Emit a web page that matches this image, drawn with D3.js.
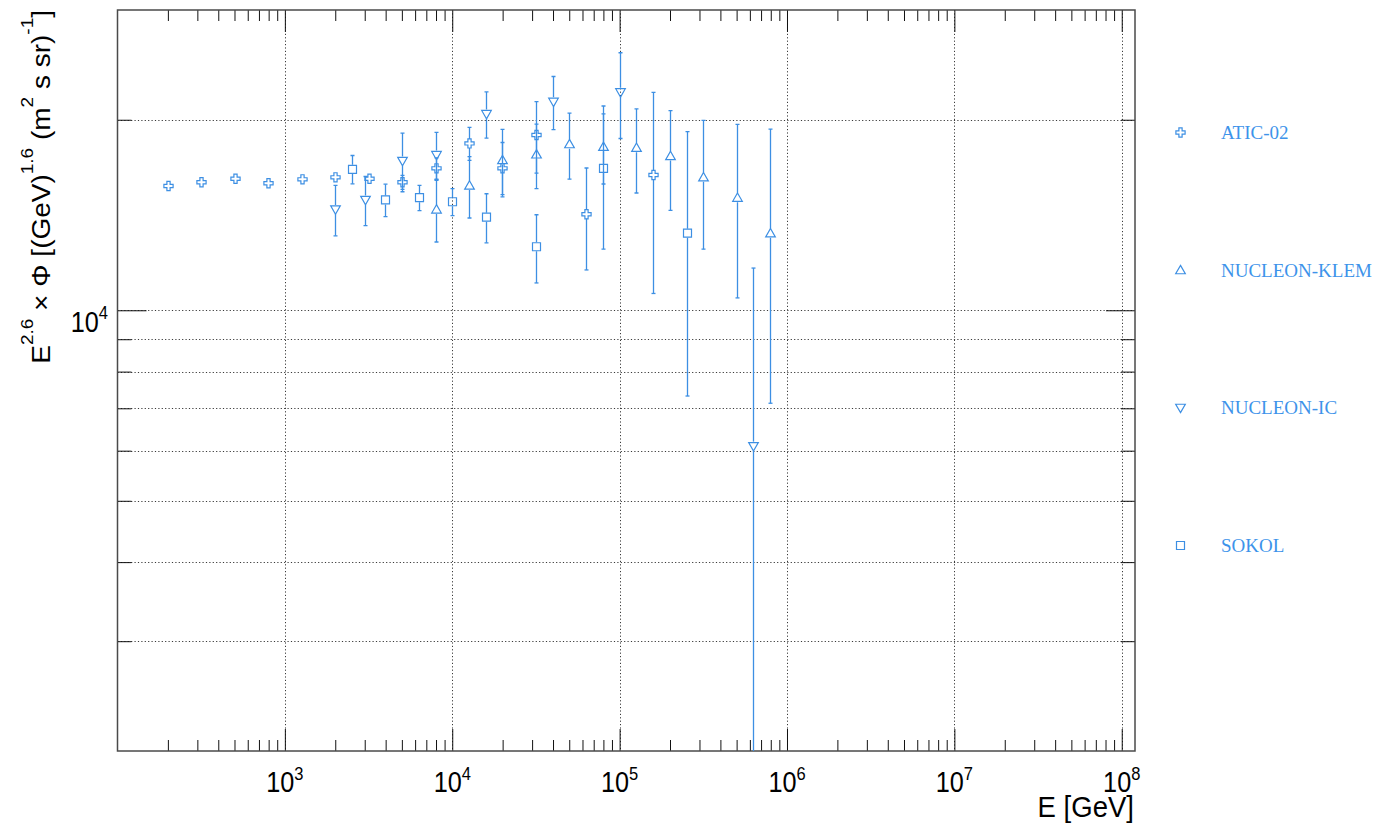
<!DOCTYPE html>
<html>
<head>
<meta charset="utf-8">
<script src="https://cdn.jsdelivr.net/npm/d3@7"></script>
<style>
  body { margin: 0; background: #fff; }
  svg { display: block; }
</style>
</head>
<body>
<svg id="chart" width="1379" height="824"></svg>
<script>
// ---- data: energy [GeV], E^2.6 x flux, symmetric error ----
const aticEnergy = [200, 316, 501, 794, 1259, 1995, 3162, 5012, 7943, 12589, 19953, 31623, 63096, 158489];
const aticValue  = [15720, 15930, 16140, 15870, 16100, 16220, 16140, 15930, 16760, 18350, 16760, 18920, 14180, 16360];
const aticError  = [120, 130, 140, 150, 170, 200, 260, 400, 650, 1100, 1650, 2450, 2600, 5730];

const klemEnergy = [7943, 12589, 19953, 31623, 50119, 79433, 125893, 199526, 316228, 501187, 794328];
const klemValue  = [14430, 15740, 17270, 17630, 18300, 18130, 18060, 17530, 16220, 15060, 13230];
const klemError  = [1610, 1750, 2040, 2060, 2190, 2300, 2740, 3150, 3730, 4600, 6100];

const icEnergy = [2000, 3000, 5000, 8000, 16000, 40000, 100000, 630000];
const icValue  = [14430, 14940, 17220, 17590, 20420, 21350, 22100, 6100];
const icError  = [1320, 1330, 1830, 1510, 1710, 2060, 3420, 5560];

const sokolEnergy = [2512, 3981, 6310, 10000, 15849, 31623, 79433, 251189];
const sokolValue  = [16700, 14940, 15060, 14840, 14030, 12600, 16760, 13240];
const sokolError  = [860, 880, 690, 730, 1250, 1555, 4265, 5920];

const seriesNames = ["ATIC-02", "NUCLEON-KLEM", "NUCLEON-IC", "SOKOL"];

const xMajorTicks = [1e3, 1e4, 1e5, 1e6, 1e7, 1e8];
const xTickExponents = ["3", "4", "5", "6", "7", "8"];
const yMinorTicks = [3000, 4000, 5000, 6000, 7000, 8000, 9000, 20000];
const yMajorTicks = [10000];
const yTickExponents = ["4"];

// ---- layout ----
const plot = { left: 117.5, right: 1135, top: 10, bottom: 751 };
const color = "#3d8fe3";
const textColor = "#3d93ea";

const svg = d3.select("#chart");

const x = d3.scaleLog().domain([100, 1.2e8]).range([plot.left, plot.right]);
const y = d3.scaleLog().domain([2012, 29815]).range([plot.bottom, plot.top]);

// minor ticks for the log x axis: 2..9 in every decade inside the domain
const xMinorTicks = [];
for (let p = 2; p <= 8; p++) {
  for (let k = 2; k <= 9; k++) {
    const v = k * Math.pow(10, p);
    if (v > x.domain()[0] && v < x.domain()[1]) xMinorTicks.push(v);
  }
}

const snap = v => Math.round(v) + 0.5;

// ---- grid ----
const grid = svg.append("g")
  .attr("stroke", "#3a3a3a")
  .attr("stroke-width", 1)
  .attr("stroke-dasharray", "1.2,2.2");
grid.selectAll("line.vx").data(xMajorTicks).join("line")
  .attr("class", "vx")
  .attr("x1", d => snap(x(d))).attr("x2", d => snap(x(d)))
  .attr("y1", plot.top).attr("y2", plot.bottom);
grid.selectAll("line.hy").data(yMinorTicks.concat(yMajorTicks)).join("line")
  .attr("class", "hy")
  .attr("y1", d => snap(y(d))).attr("y2", d => snap(y(d)))
  .attr("x1", plot.left).attr("x2", plot.right);

// ---- axis ticks (inward, mirrored on all four sides) ----
function ticks(axisFn, pos, values, size) {
  const a = svg.append("g")
    .attr("transform", pos)
    .call(axisFn.tickValues(values).tickSize(-size).tickFormat(""));
  a.select(".domain").remove();
  a.selectAll("line").attr("stroke", "#111").attr("stroke-width", 1);
}
ticks(d3.axisBottom(x), `translate(0,${plot.bottom})`, xMinorTicks, 11);
ticks(d3.axisBottom(x), `translate(0,${plot.bottom})`, xMajorTicks, 22);
ticks(d3.axisTop(x), `translate(0,${plot.top})`, xMinorTicks, 11);
ticks(d3.axisTop(x), `translate(0,${plot.top})`, xMajorTicks, 22);
ticks(d3.axisLeft(y), `translate(${plot.left},0)`, yMinorTicks, 14);
ticks(d3.axisLeft(y), `translate(${plot.left},0)`, yMajorTicks, 29);
ticks(d3.axisRight(y), `translate(${plot.right},0)`, yMinorTicks, 14);
ticks(d3.axisRight(y), `translate(${plot.right},0)`, yMajorTicks, 29);

// frame
svg.append("rect")
  .attr("x", plot.left).attr("y", plot.top)
  .attr("width", plot.right - plot.left).attr("height", plot.bottom - plot.top)
  .attr("fill", "none").attr("stroke", "#4a4a4a").attr("stroke-width", 1.5);

// ---- tick labels (10^n) ----
const labelFont = "'Liberation Sans', Arial, Helvetica, sans-serif";
xMajorTicks.forEach((v, i) => {
  const t = svg.append("text")
    .attr("transform", `translate(${x(v)},792) scale(0.87,1)`)
    .attr("text-anchor", "middle")
    .attr("font-family", labelFont)
    .attr("font-size", 29)
    .attr("fill", "#000");
  t.append("tspan").text("10");
  t.append("tspan").attr("font-size", 19).attr("dy", -12).text(xTickExponents[i]);
});
yMajorTicks.forEach((v, i) => {
  const t = svg.append("text")
    .attr("transform", `translate(108,${y(v) + 22}) scale(0.87,1)`)
    .attr("text-anchor", "end")
    .attr("font-family", labelFont)
    .attr("font-size", 29)
    .attr("fill", "#000");
  t.append("tspan").text("10");
  t.append("tspan").attr("font-size", 19).attr("dy", -13).text(yTickExponents[i]);
});

// ---- axis titles ----
svg.append("text")
  .attr("transform", "translate(1134,817) scale(0.95,1)")
  .attr("text-anchor", "end")
  .attr("font-family", labelFont)
  .attr("font-size", 29)
  .attr("fill", "#000")
  .text("E [GeV]");

const yTitle = svg.append("text")
  .attr("transform", "translate(50,10) scale(0.9,1) rotate(-90)")
  .attr("text-anchor", "end")
  .attr("font-family", labelFont)
  .attr("font-size", 28)
  .attr("fill", "#000");
const yTitleParts = [
  ["E", false], ["2.6", true], [" \u00d7 \u03a6 [(GeV)", false], ["1.6", true],
  [" (m", false], ["2", true], [" s sr)", false], ["-1", true], ["]", false]
];
let raised = false;
yTitleParts.forEach(([txt, sup]) => {
  const ts = yTitle.append("tspan").text(txt);
  if (sup) { ts.attr("font-size", 19).attr("dy", -19); raised = true; }
  else if (raised) { ts.attr("dy", 19); raised = false; }
});

// ---- markers ----
const ms = 4.5; // half size of a marker
const markerPaths = {
  cross: (() => {
    const s = 4.6, w = 1.6;
    return `M${-w},${-s}H${w}V${-w}H${s}V${w}H${w}V${s}H${-w}V${w}H${-s}V${-w}H${-w}Z`;
  })(),
  triUp: "M0,-4.8L4.8,3.6L-4.8,3.6Z",
  triDown: "M0,4.8L4.8,-3.6L-4.8,-3.6Z",
  square: "M-4,-4H4V4H-4Z"
};

const series = [
  { name: seriesNames[0], energy: aticEnergy, value: aticValue, error: aticError, marker: "cross" },
  { name: seriesNames[1], energy: klemEnergy, value: klemValue, error: klemError, marker: "triUp" },
  { name: seriesNames[2], energy: icEnergy, value: icValue, error: icError, marker: "triDown" },
  { name: seriesNames[3], energy: sokolEnergy, value: sokolValue, error: sokolError, marker: "square" }
];

svg.append("clipPath").attr("id", "plotClip")
  .append("rect")
  .attr("x", plot.left).attr("y", plot.top)
  .attr("width", plot.right - plot.left).attr("height", plot.bottom - plot.top);

const dataLayer = svg.append("g").attr("clip-path", "url(#plotClip)");

series.forEach(s => {
  const pts = s.energy.map((e, i) => ({ e, v: s.value[i], err: s.error[i] }));
  const gs = dataLayer.append("g")
    .attr("stroke", color).attr("fill", "none").attr("stroke-width", 1.3);

  pts.forEach(p => {
    const cx = snap(x(p.e));
    const cy = y(p.v);
    const top = y(p.v + p.err);
    const lowVal = p.v - p.err;
    const bot = lowVal > 0 ? y(lowVal) : plot.bottom + 50;
    if (cy - top > ms) {
      gs.append("line").attr("x1", cx).attr("x2", cx).attr("y1", top).attr("y2", cy - ms);
      gs.append("line").attr("x1", cx - 2).attr("x2", cx + 2).attr("y1", top).attr("y2", top);
    }
    if (bot - cy > ms) {
      gs.append("line").attr("x1", cx).attr("x2", cx).attr("y1", cy + ms).attr("y2", Math.min(bot, plot.bottom + 2));
      if (bot < plot.bottom) {
        gs.append("line").attr("x1", cx - 2).attr("x2", cx + 2).attr("y1", bot).attr("y2", bot);
      }
    }
    gs.append("path")
      .attr("d", markerPaths[s.marker])
      .attr("transform", `translate(${cx},${cy})`)
      .attr("stroke-width", 1.2);
  });
});

// ---- legend ----
const legendY = d3.scalePoint().domain(seriesNames).range([132.5, 545.5]);
const legend = svg.append("g");
series.forEach(s => {
  const ly = legendY(s.name);
  legend.append("path")
    .attr("d", markerPaths[s.marker])
    .attr("transform", `translate(1180.5,${ly})`)
    .attr("fill", "none").attr("stroke", color).attr("stroke-width", 1.2);
  legend.append("text")
    .attr("x", 1221).attr("y", ly + 6.5)
    .attr("font-family", "'Liberation Serif', 'Times New Roman', serif")
    .attr("font-size", 19)
    .attr("fill", textColor)
    .text(s.name);
});
</script>
</body>
</html>
